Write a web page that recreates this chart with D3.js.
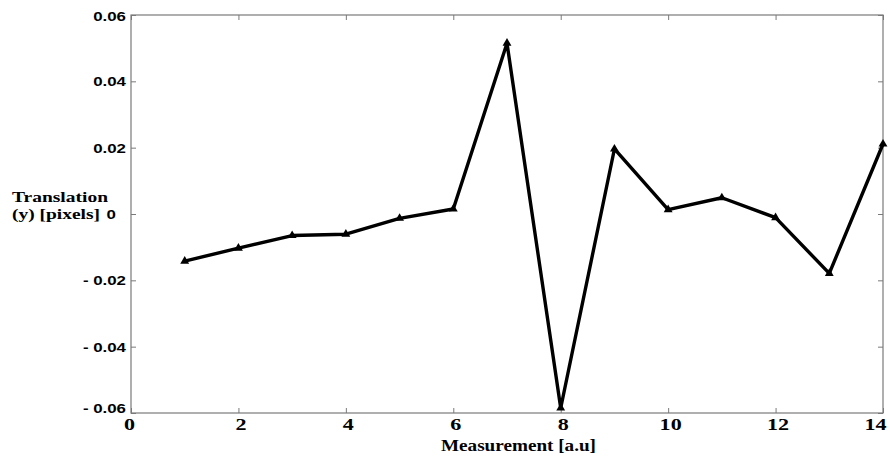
<!DOCTYPE html>
<html>
<head>
<meta charset="utf-8">
<script src="https://cdn.jsdelivr.net/npm/d3@7/dist/d3.min.js"></script>
<style>
  html, body { margin: 0; padding: 0; background: #fff; }
  svg { display: block; }
</style>
</head>
<body>
<div id="chart"></div>
<script>
// ---- data ----
const measurement = [1, 2, 3, 4, 5, 6, 7, 8, 9, 10, 11, 12, 13, 14];
const translationY = [-0.0142, -0.0103, -0.0065, -0.0061, -0.0013, 0.0015, 0.0515, -0.0585, 0.0196, 0.0013, 0.0049, -0.0011, -0.0179, 0.0211];
const xTicks = [0, 2, 4, 6, 8, 10, 12, 14];
const yTicks = [-0.06, -0.04, -0.02, 0, 0.02, 0.04, 0.06];
const yTickLabels = ["- 0.06", "- 0.04", "- 0.02", "0", "0.02", "0.04", "0.06"];
const xLabel = "Measurement [a.u]";
const yLabelLines = ["Translation", "(y) [pixels]"];

// ---- layout ----
const W = 890, H = 456;
const margin = { left: 131, top: 15, right: 7, bottom: 43 };
const iw = W - margin.left - margin.right;
const ih = H - margin.top - margin.bottom;

const svg = d3.select("#chart").append("svg").attr("width", W).attr("height", H);
const g = svg.append("g").attr("transform", `translate(${margin.left},${margin.top})`);

const x = d3.scaleLinear().domain([0, 14]).range([0, iw]);
const y = d3.scaleLinear().domain([-0.06, 0.06]).range([ih, 0]);

const axisColor = "#7a7a7a";

// frame
g.append("rect").attr("x", 0).attr("y", 0).attr("width", iw).attr("height", ih)
  .attr("fill", "none").attr("stroke", axisColor).attr("stroke-width", 1.2);

// bottom axis
const xAxis = g.append("g").attr("transform", `translate(0,${ih})`)
  .call(d3.axisBottom(x).tickValues(xTicks).tickSize(-5).tickPadding(0).tickFormat(d3.format("d")));
xAxis.select(".domain").remove();
xAxis.selectAll(".tick line").attr("stroke", axisColor);
xAxis.selectAll(".tick text")
  .attr("y", 0).attr("dy", 0)
  .attr("transform", d => `translate(${d === 14 ? -8 : (d === 0 ? -2 : 2)},17) scale(1.3,1)`)
  .style("font-family", "'Liberation Serif', 'Times New Roman', serif")
  .style("font-weight", "bold").style("font-size", "17px").attr("fill", "#000");

// top ticks
const xTop = g.append("g").call(d3.axisTop(x).tickValues(xTicks).tickSize(-5).tickFormat(""));
xTop.select(".domain").remove();
xTop.selectAll(".tick line").attr("stroke", axisColor);

// left axis
const yAxis = g.append("g")
  .call(d3.axisLeft(y).tickValues(yTicks).tickSize(-5).tickPadding(0)
    .tickFormat((d, i) => yTickLabels[i]));
yAxis.select(".domain").remove();
yAxis.selectAll(".tick line").attr("stroke", axisColor);
yAxis.selectAll(".tick text")
  .attr("x", 0).attr("dy", "0.36em")
  .attr("transform", "translate(-5,0) scale(1.35,1)")
  .style("font-family", "'Liberation Sans', Arial, sans-serif")
  .style("font-weight", "bold").style("font-size", "12.5px").attr("fill", "#000");
yAxis.selectAll(".tick text").filter(d => d === -0.06).attr("dy", "-0.05em");
yAxis.selectAll(".tick text").filter(d => d === 0.06).attr("dy", "0.4em");
yAxis.selectAll(".tick text").filter(d => d === 0).attr("transform", "translate(-15,0) scale(1.35,1)");

// right ticks
const yRight = g.append("g").attr("transform", `translate(${iw},0)`)
  .call(d3.axisRight(y).tickValues(yTicks).tickSize(-5).tickFormat(""));
yRight.select(".domain").remove();
yRight.selectAll(".tick line").attr("stroke", axisColor);

// line
const line = d3.line().x((d, i) => x(measurement[i])).y(d => y(d));
g.append("path").datum(translationY)
  .attr("fill", "none").attr("stroke", "#000").attr("stroke-width", 3.4)
  .attr("stroke-linejoin", "round").attr("d", line);

// markers (filled up-triangles)
const tri = d3.symbol().type(d3.symbolTriangle).size(34);
g.selectAll(".mk").data(translationY).enter().append("path")
  .attr("class", "mk")
  .attr("transform", (d, i) => `translate(${x(measurement[i])},${y(d)})`)
  .attr("d", tri).attr("fill", "#000");

// x label
svg.append("text")
  .attr("x", 441).attr("y", 451)
  .attr("textLength", 155).attr("lengthAdjust", "spacingAndGlyphs")
  .style("font-family", "'Liberation Serif', 'Times New Roman', serif")
  .style("font-weight", "bold").style("font-size", "17px").attr("fill", "#000")
  .text(xLabel);

// y label
const yl = svg.append("text")
  .style("font-family", "'Liberation Serif', 'Times New Roman', serif")
  .style("font-weight", "bold").style("font-size", "15px").attr("fill", "#000");
yl.append("tspan").attr("x", 12).attr("y", 202)
  .attr("textLength", 96).attr("lengthAdjust", "spacingAndGlyphs").text(yLabelLines[0]);
yl.append("tspan").attr("x", 12).attr("y", 219)
  .attr("textLength", 88).attr("lengthAdjust", "spacingAndGlyphs").text(yLabelLines[1]);
</script>
</body>
</html>
